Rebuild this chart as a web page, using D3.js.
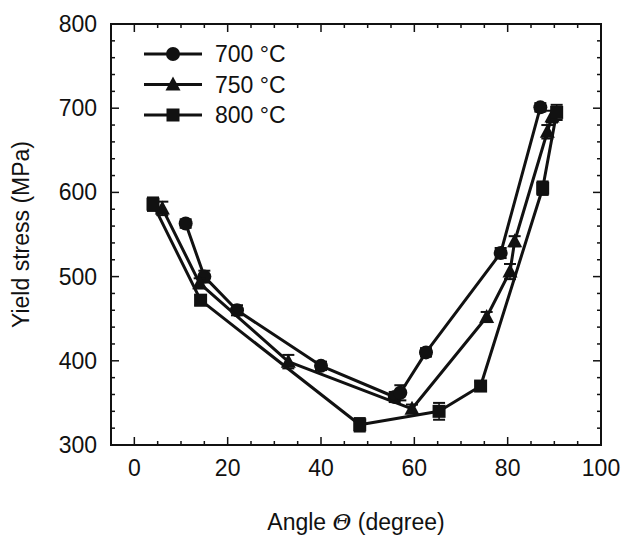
<!DOCTYPE html>
<html><head><meta charset="utf-8">
<script src="https://cdn.jsdelivr.net/npm/d3@7"></script>
<style>body{margin:0;background:#fff}svg{display:block}text{font-family:"Liberation Sans",Arial,sans-serif;fill:#111}</style>
</head><body>
<script>
const seriesNames = ["700 °C", "750 °C", "800 °C"];
const markers = ["circle", "triangle", "square"];
// angle, yield stress, error
const s700x = [11, 15, 22, 40, 55.8, 57, 62.5, 78.5, 87];
const s700y = [563, 500, 460, 394, 357, 362, 410, 528, 701];
const s700e = [5, 7, 6, 5, 6, 9, 5, 6, 5];
const s750x = [6, 14, 33, 59.5, 75.5, 80.5, 81.5, 88.5, 89.5];
const s750y = [581, 492, 399, 343, 452, 506, 542, 672, 690];
const s750e = [8, 6, 8, 5, 6, 9, 6, 8, 7];
const s800x = [4, 14.2, 48.3, 65.3, 74.2, 87.5, 90.5];
const s800y = [586, 472, 324, 340, 370, 605, 695];
const s800e = [8, 6, 8, 10, 5, 8, 9];
const xTicks = [0, 20, 40, 60, 80, 100];
const yTicks = [300, 400, 500, 600, 700, 800];

const W = 625, H = 535;
const L = 111, R = 601, T = 24, B = 445;
const svg = d3.select("body").append("svg").attr("width", W).attr("height", H);
const x = d3.scaleLinear().domain([-5, 100]).range([L, R]);
const y = d3.scaleLinear().domain([300, 800]).range([B, T]);
const ink = "#111";

// ticks on all sides, inward
const g = svg.append("g");
const xMinor = d3.range(-5, 100.01, 5);
const yMinor = d3.range(300, 800.01, 20);
xMinor.forEach(v => {
  const len = xTicks.includes(v) ? 8 : 4;
  g.append("line").attr("x1", x(v)).attr("x2", x(v)).attr("y1", B).attr("y2", B - len).attr("stroke", ink).attr("stroke-width", 1.5);
  g.append("line").attr("x1", x(v)).attr("x2", x(v)).attr("y1", T).attr("y2", T + len).attr("stroke", ink).attr("stroke-width", 1.5);
});
yMinor.forEach(v => {
  const len = yTicks.includes(v) ? 8 : 4;
  g.append("line").attr("y1", y(v)).attr("y2", y(v)).attr("x1", L).attr("x2", L + len).attr("stroke", ink).attr("stroke-width", 1.5);
  g.append("line").attr("y1", y(v)).attr("y2", y(v)).attr("x1", R).attr("x2", R - len).attr("stroke", ink).attr("stroke-width", 1.5);
});
svg.append("rect").attr("x", L).attr("y", T).attr("width", R - L).attr("height", B - T)
  .attr("fill", "none").attr("stroke", ink).attr("stroke-width", 2);

// tick labels
xTicks.forEach(v => svg.append("text").attr("x", x(v)).attr("y", 476).attr("text-anchor", "middle")
  .attr("font-size", 23).text(v));
yTicks.forEach(v => svg.append("text").attr("x", 97).attr("y", y(v) + 8).attr("text-anchor", "end")
  .attr("font-size", 23).text(v));

// axis titles
const xt = svg.append("text").attr("x", 356).attr("y", 530).attr("text-anchor", "middle").attr("font-size", 23);
xt.append("tspan").text("Angle ");
xt.append("tspan").attr("font-style", "italic").attr("font-family", "DejaVu Serif").text("Θ");
xt.append("tspan").text(" (degree)");
svg.append("text").attr("transform", `translate(29,${(T + B) / 2}) rotate(-90)`).attr("text-anchor", "middle")
  .attr("font-size", 23).text("Yield stress (MPa)");

function marker(sel, type, cx, cy) {
  if (type === "circle") sel.append("circle").attr("cx", cx).attr("cy", cy).attr("r", 7).attr("fill", ink);
  else if (type === "square") sel.append("rect").attr("x", cx - 6.5).attr("y", cy - 6.5).attr("width", 13).attr("height", 13).attr("fill", ink);
  else sel.append("path").attr("d", `M${cx},${cy - 8}L${cx + 7.5},${cy + 6}L${cx - 7.5},${cy + 6}Z`).attr("fill", ink);
}

const series = [
  {xs: s700x, ys: s700y, es: s700e},
  {xs: s750x, ys: s750y, es: s750e},
  {xs: s800x, ys: s800y, es: s800e}
];
const line = d3.line().x(d => x(d[0])).y(d => y(d[1]));
series.forEach((s, i) => {
  const pts = s.xs.map((v, j) => [v, s.ys[j], s.es[j]]);
  const sg = svg.append("g");
  sg.append("path").attr("d", line(pts)).attr("fill", "none").attr("stroke", ink).attr("stroke-width", 3).attr("stroke-linejoin", "round");
  pts.forEach(p => {
    const cx = x(p[0]), y1 = y(p[1] + p[2]), y2 = y(p[1] - p[2]);
    sg.append("line").attr("x1", cx).attr("x2", cx).attr("y1", y1).attr("y2", y2).attr("stroke", ink).attr("stroke-width", 1.5);
    [y1, y2].forEach(yy => sg.append("line").attr("x1", cx - 6).attr("x2", cx + 6).attr("y1", yy).attr("y2", yy).attr("stroke", ink).attr("stroke-width", 2));
    marker(sg, markers[i], cx, y(p[1]));
  });
});

// legend
const legY = [54, 84.5, 115];
seriesNames.forEach((n, i) => {
  svg.append("line").attr("x1", 144).attr("x2", 202).attr("y1", legY[i]).attr("y2", legY[i]).attr("stroke", ink).attr("stroke-width", 3);
  marker(svg, markers[i], 173, legY[i]);
  svg.append("text").attr("x", 215).attr("y", legY[i] + 8).attr("font-size", 23).text(n);
});
</script>
</body></html>
